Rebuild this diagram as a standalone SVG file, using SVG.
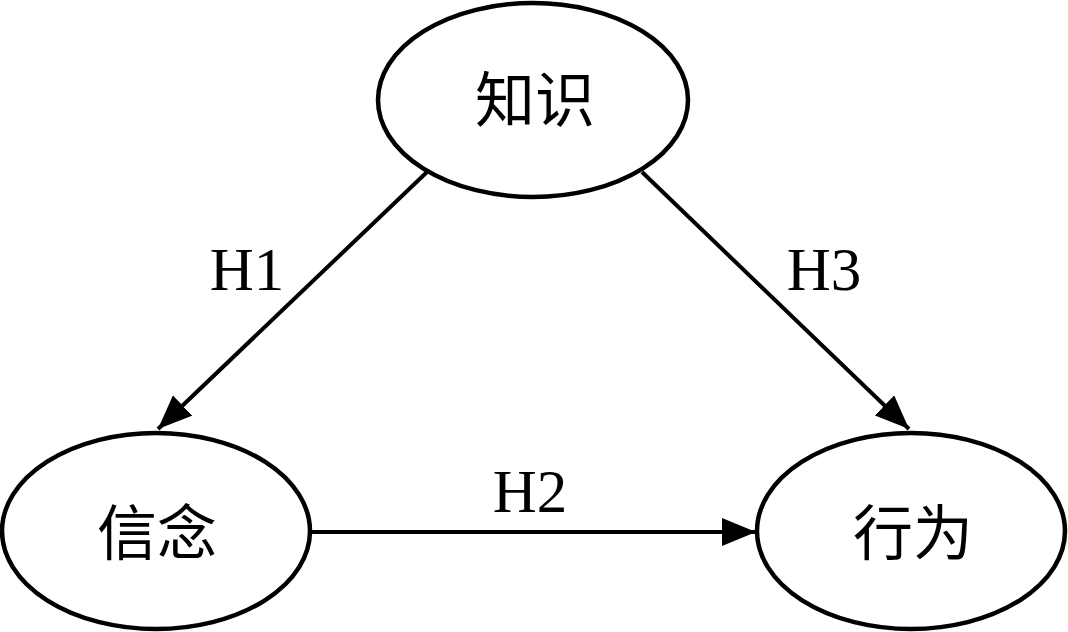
<svg xmlns="http://www.w3.org/2000/svg" width="1068" height="632" viewBox="0 0 1068 632">
<style>
.node{fill:#fff;stroke:#000;stroke-width:4.5}
.cjk{font-family:"Noto Sans CJK SC",sans-serif;font-size:60px;text-anchor:middle;fill:#000}
.lbl{font-family:"Liberation Serif",serif;font-size:61px;text-anchor:middle;fill:#000}
.edge{stroke:#000;stroke-width:4;fill:none;marker-end:url(#arr)}
</style>
<defs>
<marker id="arr" markerWidth="34" markerHeight="28" refX="34" refY="14" orient="auto" markerUnits="userSpaceOnUse" viewBox="0 0 34 28">
<path d="M0,0 L34,14 L0,28 Z" fill="#000"/>
</marker>
</defs>
<rect width="1068" height="632" fill="#fff"/>
<g id="edges">
<line class="edge" x1="427" y1="172" x2="158" y2="429"/>
<line class="edge" x1="310" y1="532" x2="756" y2="532"/>
<line class="edge" x1="642" y1="172" x2="909" y2="429"/>
<text class="lbl" x="247" y="290">H1</text>
<text class="lbl" x="530" y="512">H2</text>
<text class="lbl" x="824" y="290">H3</text>
</g>
<g id="n_zhishi">
<ellipse class="node" cx="533" cy="100" rx="155" ry="97"/>
<text class="cjk" x="535" y="122">知识</text>
</g>
<g id="n_xinnian">
<ellipse class="node" cx="156" cy="531" rx="154" ry="98"/>
<text class="cjk" x="157" y="555">信念</text>
</g>
<g id="n_xingwei">
<ellipse class="node" cx="911" cy="531" rx="154" ry="98"/>
<text class="cjk" x="913" y="555">行为</text>
</g>
</svg>
